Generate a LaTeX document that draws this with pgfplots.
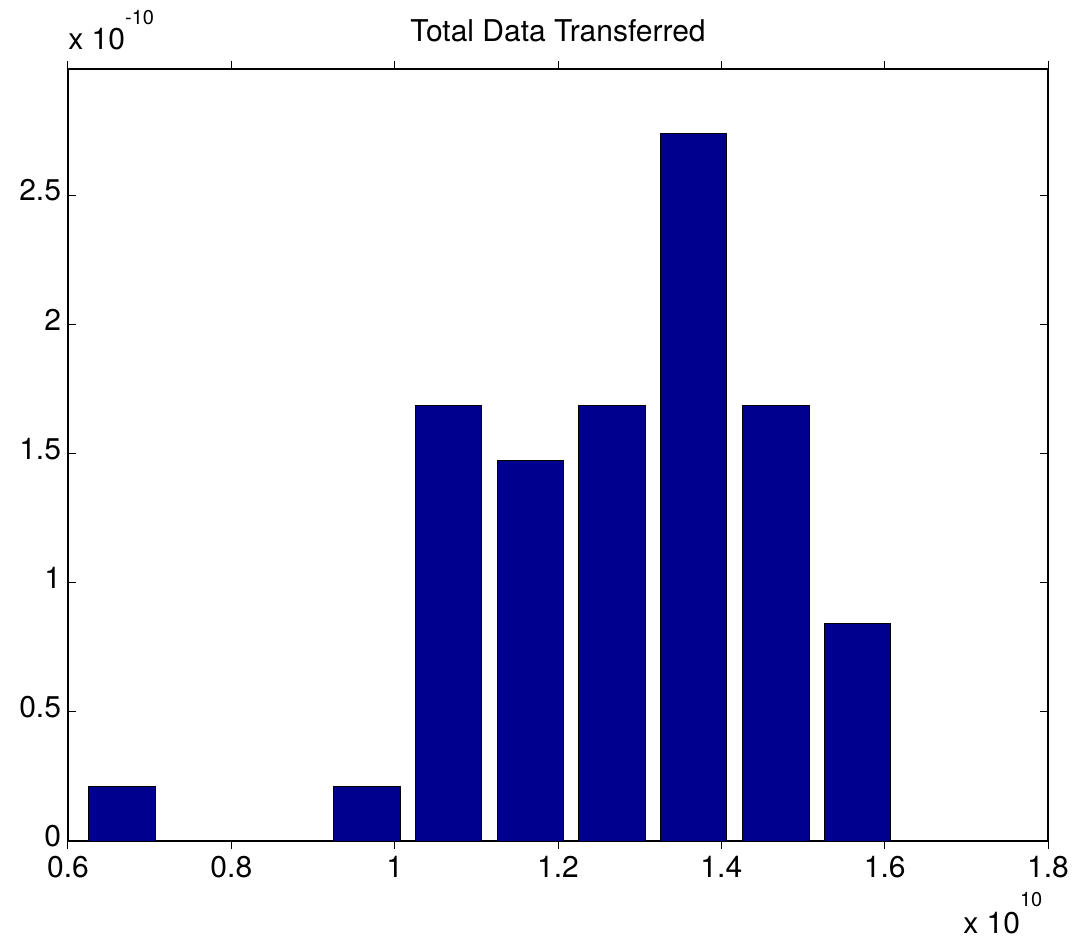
\documentclass[border=0pt]{standalone}
\usepackage{fontspec}
\setmainfont{TeX Gyre Heros}
\usepackage{pgfplots}
\pgfplotsset{compat=1.18}
\definecolor{barblue}{RGB}{0,0,143}
\begin{document}
\begin{tikzpicture}
\begin{axis}[
  scale only axis, width=490bp, height=386bp,
  xmin=0.6, xmax=1.8, ymin=0, ymax=2.99,
  xtick={0.6,0.8,1,1.2,1.4,1.6,1.8},
  ytick={0,0.5,1,1.5,2,2.5},
  tick align=inside, major tick length=4bp,
  tick style={black, line width=0.5bp},
  axis line style={line width=0.7bp},
  ticklabel style={font=\fontsize{15bp}{18bp}\selectfont},
  yticklabel style={yshift=2.5bp},
  /pgf/number format/assume math mode=true,
  scaled ticks=false,
  clip=false,
  ybar, bar width=0.0812, bar shift=0pt,
]
\addplot[fill=barblue, draw=black, line width=0.5bp] coordinates {
  (0.666,0.2107) (0.966,0.2107) (1.066,1.686) (1.166,1.475)
  (1.266,1.686) (1.366,2.739) (1.467,1.686) (1.567,0.843)
};
\node[anchor=base, inner sep=0, font=\fontsize{15bp}{18bp}\selectfont] at ([yshift=13.5bp]rel axis cs:0.5,1) {Total Data Transferred};
\node[anchor=base west, inner sep=0, font=\fontsize{15bp}{18bp}\selectfont] at ([yshift=9.5bp]rel axis cs:0,1) {x 10\raisebox{12.5bp}{\fontsize{10bp}{11bp}\selectfont -10}};
\node[anchor=base west, inner sep=0, font=\fontsize{15bp}{18bp}\selectfont] at ([xshift=-42.5bp,yshift=-46bp]rel axis cs:1,0) {x 10\raisebox{13.5bp}{\fontsize{10bp}{11bp}\selectfont 10}};
\end{axis}
\pgfresetboundingbox
\path ([shift={(-34bp,-48.5bp)}]current axis.south west) rectangle ([shift={(12.5bp,34.5bp)}]current axis.north east);
\end{tikzpicture}
\end{document}
